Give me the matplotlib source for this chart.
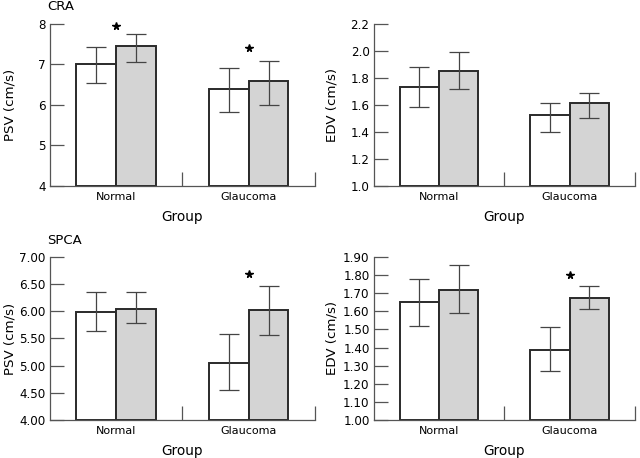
import matplotlib
matplotlib.use("Agg")
import matplotlib.pyplot as plt
import numpy as np

plt.rcParams['font.family'] = ['DejaVu Sans']

groups = ["Normal", "Glaucoma"]

# CRA
cra_psv_white = [7.00, 6.38]
cra_psv_white_err = [(6.54, 7.42), (5.82, 6.92)]
cra_psv_gray = [7.45, 6.59]
cra_psv_gray_err = [(7.07, 7.75), (6.00, 7.09)]
cra_psv_stars = [0, 1]  # star above group (index)
cra_psv_star_y = [7.95, 7.40]

cra_edv_white = [1.73, 1.525]
cra_edv_white_err = [(1.586, 1.878), (1.40, 1.616)]
cra_edv_gray = [1.854, 1.611]
cra_edv_gray_err = [(1.718, 1.992), (1.502, 1.688)]

# SPCA
spca_psv_white = [5.98, 5.05]
spca_psv_white_err = [(5.64, 6.35), (4.56, 5.58)]
spca_psv_gray = [6.04, 6.03]
spca_psv_gray_err = [(5.78, 6.35), (5.57, 6.46)]
spca_psv_star_y = [6.68]

spca_edv_white = [1.652, 1.386]
spca_edv_white_err = [(1.521, 1.78), (1.268, 1.512)]
spca_edv_gray = [1.715, 1.675]
spca_edv_gray_err = [(1.59, 1.854), (1.612, 1.739)]
spca_edv_star_y = [1.80]


def draw_panel(ax, white, white_err, gray, gray_err, ylim, yticks, fmt, ylabel,
               ylabel_x, star_idx=(), star_y=()):
    x = np.array([0.5, 1.5])
    w = 0.3
    for xs, vals, errs, col in [(x - w / 2, white, white_err, "white"),
                                (x + w / 2, gray, gray_err, "#d4d4d4")]:
        ax.bar(xs, np.array(vals) - ylim[0], w, bottom=ylim[0], color=col,
               edgecolor="#2a2a2a", linewidth=1.4, zorder=2)
        lo = np.array(vals) - np.array([e[0] for e in errs])
        hi = np.array([e[1] for e in errs]) - np.array(vals)
        ax.errorbar(xs, vals, yerr=[lo, hi], fmt="none", ecolor="#444444",
                    elinewidth=0.9, capsize=7, capthick=0.9, zorder=3)
    for i, sy in zip(star_idx, star_y):
        ax.plot(x[i], sy, marker="*", color="black", markersize=5.5,
                linestyle="none", clip_on=False, zorder=4)

    ax.set_xlim(0, 2)
    ax.set_ylim(*ylim)
    ax.set_yticks(yticks)
    ax.set_yticklabels([fmt.format(v) for v in yticks])
    ax.set_xticks([1, 2])
    ax.set_xticklabels(["", ""])
    ax.set_xticks(x, minor=True)
    ax.set_xticklabels(groups, minor=True)
    ax.tick_params(axis="x", which="minor", length=0, pad=4, labelsize=8)
    ax.tick_params(axis="x", which="major", direction="in", length=10,
                   width=0.9, color="#555555")
    ax.tick_params(axis="y", direction="in", length=10, width=0.9,
                   color="#555555", labelsize=8.6, pad=3)
    for s in ["top", "right"]:
        ax.spines[s].set_visible(False)
    for s in ["left", "bottom"]:
        ax.spines[s].set_color("#555555")
        ax.spines[s].set_linewidth(0.9)
    ax.set_xlabel("Group", fontsize=9.8, labelpad=6)
    ax.set_ylabel(ylabel, fontsize=9.6)
    # anchor is the right edge of the rotated label
    ax.yaxis.set_label_coords(ylabel_x, 0.5)


fig = plt.figure(figsize=(6.4, 4.58), dpi=100)

ax1 = fig.add_axes([0.078, 0.594, 0.414, 0.354])
ax2 = fig.add_axes([0.584, 0.594, 0.408, 0.354])
ax3 = fig.add_axes([0.078, 0.083, 0.414, 0.356])
ax4 = fig.add_axes([0.584, 0.083, 0.408, 0.356])

draw_panel(ax1, cra_psv_white, cra_psv_white_err, cra_psv_gray, cra_psv_gray_err,
           (4, 8), [4, 5, 6, 7, 8], "{:.0f}", "PSV (cm/s)", -0.128,
           star_idx=cra_psv_stars, star_y=cra_psv_star_y)
draw_panel(ax2, cra_edv_white, cra_edv_white_err, cra_edv_gray, cra_edv_gray_err,
           (1.0, 2.2), [1.0, 1.2, 1.4, 1.6, 1.8, 2.0, 2.2], "{:.1f}", "EDV (cm/s)",
           -0.134)
draw_panel(ax3, spca_psv_white, spca_psv_white_err, spca_psv_gray, spca_psv_gray_err,
           (4.0, 7.0), [4.0, 4.5, 5.0, 5.5, 6.0, 6.5, 7.0], "{:.2f}", "PSV (cm/s)",
           -0.128, star_idx=[1], star_y=spca_psv_star_y)
draw_panel(ax4, spca_edv_white, spca_edv_white_err, spca_edv_gray, spca_edv_gray_err,
           (1.0, 1.9), [1.0, 1.1, 1.2, 1.3, 1.4, 1.5, 1.6, 1.7, 1.8, 1.9], "{:.2f}",
           "EDV (cm/s)", -0.134, star_idx=[1], star_y=spca_edv_star_y)

fig.text(47 / 640, 1 - 7 / 458, "CRA", fontsize=9.5, va="center", ha="left")
fig.text(47 / 640, 1 - 241 / 458, "SPCA", fontsize=9.5, va="center", ha="left")

fig.savefig("out.png", dpi=100)
